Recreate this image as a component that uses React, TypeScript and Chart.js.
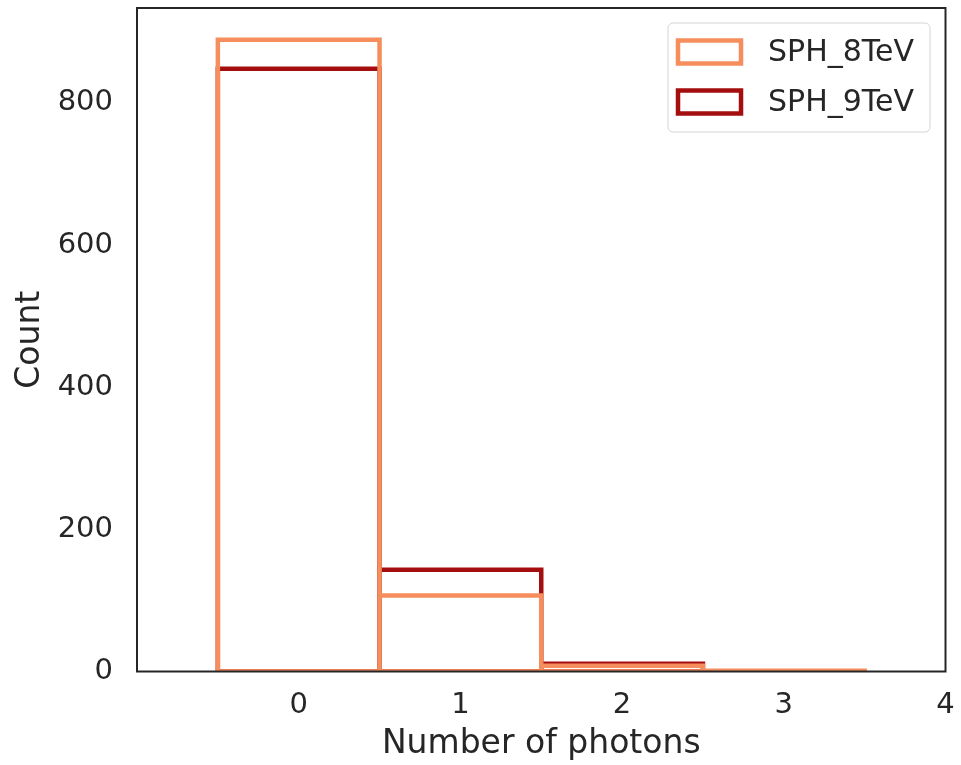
import React, { useEffect, useRef } from "react";
import { Chart, registerables } from "chart.js";

Chart.register(...registerables);

// Histogram bins: integer photon counts, bins centred on the integers
const BIN_EDGES = [-0.5, 0.5, 1.5, 2.5, 3.5];
const SPH_8TEV_COUNTS = [889, 107, 8, 1];
const SPH_9TEV_COUNTS = [848, 143, 11];
const SERIES_LABELS = ["SPH_8TeV", "SPH_9TeV"];
const SERIES_COLORS = ["#f58e5c", "#a50e0e"];

const X_TICKS = [0, 1, 2, 3, 4];
const Y_TICKS = [0, 200, 400, 600, 800];
const X_MIN = -1;
const X_MAX = 4;
const Y_MAX = 933.5;

const X_TITLE = "Number of photons";
const Y_TITLE = "Count";

const FONT = "'DejaVu Sans', 'Liberation Sans', sans-serif";
const INK = "#262626";

// Each bin becomes its own closed rectangle outline (unfilled bars)
function barOutlines(counts: number[]) {
  const pts: { x: number; y: number | null }[] = [];
  counts.forEach((c, i) => {
    const l = BIN_EDGES[i];
    const r = BIN_EDGES[i + 1];
    pts.push(
      { x: l, y: 0 },
      { x: l, y: c },
      { x: r, y: c },
      { x: r, y: 0 },
      { x: l, y: 0 },
      { x: r, y: null }
    );
  });
  return pts;
}

// Keep the plot area fixed by the layout padding alone
function noEdgePadding(s: any) {
  s.paddingTop = 0;
  s.paddingBottom = 0;
  s.paddingLeft = 0;
  s.paddingRight = 0;
}

const framePlugin = {
  id: "frameAndLegend",
  afterDraw(chart: any) {
    const { ctx, chartArea: ca } = chart;
    ctx.save();
    // axes frame
    ctx.strokeStyle = INK;
    ctx.lineWidth = 2;
    ctx.strokeRect(ca.left, ca.top, ca.right - ca.left, ca.bottom - ca.top);

    // legend in the upper right corner of the plot area
    ctx.font = `30px ${FONT}`;
    const textW = Math.max(...SERIES_LABELS.map((t) => ctx.measureText(t).width));
    const textOffset = 100;
    const boxW = textOffset + textW + 16;
    const boxH = 109;
    const bx = ca.right - 15.5 - boxW;
    const by = ca.top + 15;
    const r = 5;
    ctx.beginPath();
    ctx.moveTo(bx + r, by);
    ctx.arcTo(bx + boxW, by, bx + boxW, by + boxH, r);
    ctx.arcTo(bx + boxW, by + boxH, bx, by + boxH, r);
    ctx.arcTo(bx, by + boxH, bx, by, r);
    ctx.arcTo(bx, by, bx + boxW, by, r);
    ctx.closePath();
    ctx.fillStyle = "rgba(255,255,255,0.8)";
    ctx.fill();
    ctx.strokeStyle = "#d4d4d4";
    ctx.lineWidth = 1;
    ctx.stroke();

    SERIES_LABELS.forEach((label, i) => {
      const cy = by + 29 + i * 50;
      ctx.strokeStyle = SERIES_COLORS[i];
      ctx.lineWidth = 4.5;
      ctx.fillStyle = "#ffffff";
      ctx.fillRect(bx + 10, cy - 11.5, 63, 23);
      ctx.strokeRect(bx + 10, cy - 11.5, 63, 23);
      ctx.fillStyle = INK;
      ctx.textAlign = "left";
      ctx.textBaseline = "middle";
      ctx.fillText(label, bx + textOffset, cy + 1);
    });
    ctx.restore();
  },
};

export default function App() {
  const canvasRef = useRef<HTMLCanvasElement | null>(null);

  useEffect(() => {
    const canvas = canvasRef.current;
    if (!canvas) return;
    const countsList = [SPH_8TEV_COUNTS, SPH_9TEV_COUNTS];
    const chart = new Chart(canvas, {
      type: "scatter",
      data: {
        datasets: countsList.map((counts, i) => ({
          label: SERIES_LABELS[i],
          data: barOutlines(counts),
          showLine: true,
          spanGaps: false,
          borderColor: SERIES_COLORS[i],
          backgroundColor: SERIES_COLORS[i],
          borderWidth: 4.5,
          borderCapStyle: "square",
          borderJoinStyle: "miter",
          pointRadius: 0,
          pointHoverRadius: 0,
          fill: false,
          order: i,
        })),
      },
      options: {
        responsive: false,
        animation: false,
        devicePixelRatio: 1,
        layout: { padding: { left: 0, top: 8, right: 15.5, bottom: 0 } },
        plugins: {
          legend: { display: false },
          tooltip: { enabled: false },
        },
        scales: {
          x: {
            type: "linear",
            min: X_MIN,
            max: X_MAX,
            afterBuildTicks: (s: any) => {
              s.ticks = X_TICKS.map((v) => ({ value: v }));
            },
            afterFit: (s: any) => {
              s.height = 93.5;
              noEdgePadding(s);
            },
            grid: { display: false, drawTicks: false },
            border: { display: false },
            ticks: {
              color: INK,
              font: { family: FONT, size: 29 },
              padding: 17,
              maxRotation: 0,
              autoSkip: false,
            },
            title: {
              display: true,
              text: X_TITLE,
              color: INK,
              font: { family: FONT, size: 33 },
              padding: { top: 0, bottom: 1 },
            },
          },
          y: {
            type: "linear",
            min: 0,
            max: Y_MAX,
            afterBuildTicks: (s: any) => {
              s.ticks = Y_TICKS.map((v) => ({ value: v }));
            },
            afterFit: (s: any) => {
              s.width = 137;
              noEdgePadding(s);
            },
            grid: { display: false, drawTicks: false },
            border: { display: false },
            ticks: {
              color: INK,
              font: { family: FONT, size: 29 },
              padding: 24,
              autoSkip: false,
            },
            title: {
              display: true,
              text: Y_TITLE,
              color: INK,
              font: { family: FONT, size: 33 },
              padding: { top: 11, bottom: 0 },
            },
          },
        },
      },
      plugins: [framePlugin],
    } as any);
    return () => chart.destroy();
  }, []);

  return (
    <div style={{ position: "fixed", left: 0, top: 0, width: 961, height: 765, background: "#ffffff" }}>
      <canvas ref={canvasRef} width={961} height={765} />
    </div>
  );
}
